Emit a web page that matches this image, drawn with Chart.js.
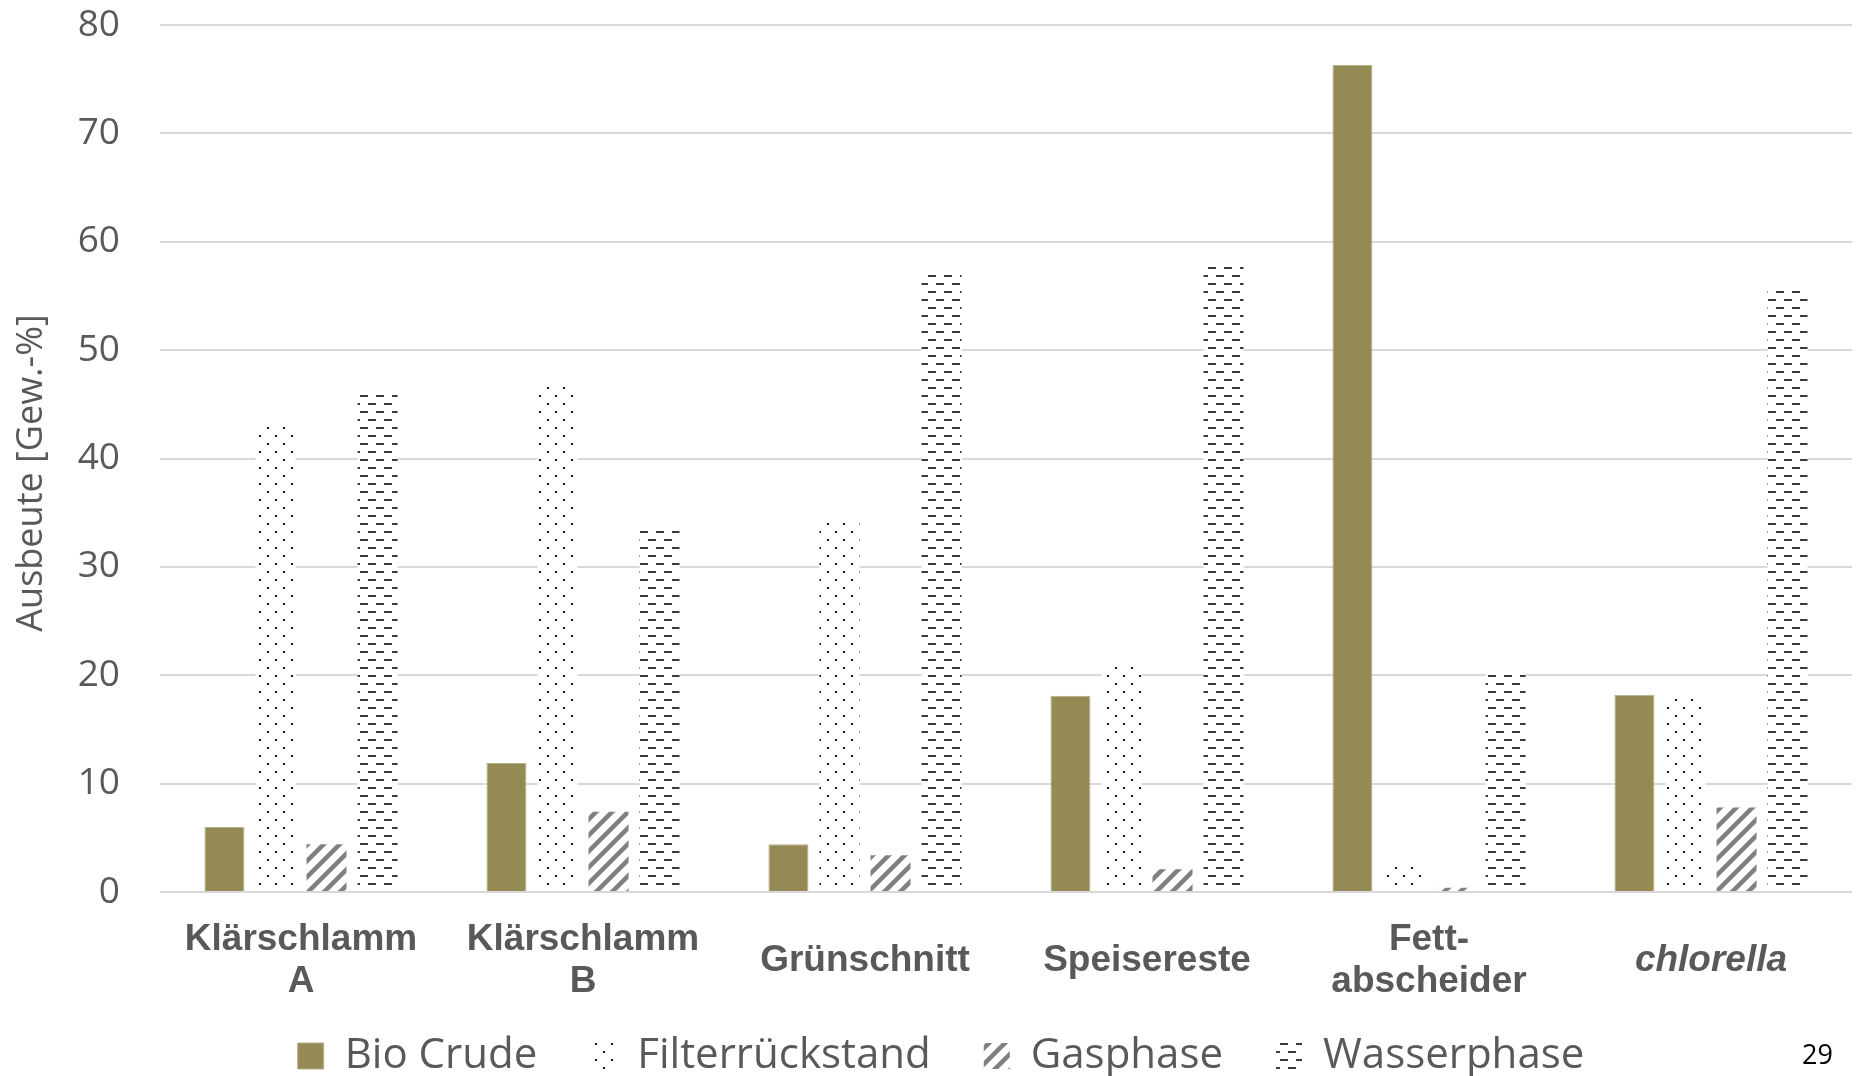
<!DOCTYPE html>
<html lang="de">
<head>
<meta charset="utf-8">
<title>Ausbeute nach Einsatzstoff</title>
<script src="https://cdn.jsdelivr.net/npm/chart.js@4.4.1/dist/chart.umd.min.js"></script>
<style>
  html, body { margin: 0; padding: 0; background: #ffffff; }
  #wrap { width: 1860px; height: 1076px; position: relative; }
</style>
</head>
<body>
<div id="wrap"><canvas id="c" width="1860" height="1076"></canvas></div>
<script>
// Einsatzstoffe (x-Achse)
const categories = [
  ["Klärschlamm", "A"],
  ["Klärschlamm", "B"],
  "Grünschnitt",
  "Speisereste",
  ["Fett-", "abscheider"],
  "chlorella"
];

// Produktfraktionen, Ausbeute in Gew.-%
const bioCrude        = [6.0, 11.9, 4.4, 18.1, 76.3, 18.2];
const filterrueckstand = [42.9, 46.8, 34.4, 21.1, 2.6, 18.1];
const gasphase        = [4.4, 7.4, 3.4, 2.1, 0.4, 7.8];
const wasserphase     = [46.1, 33.6, 57.2, 57.9, 20.4, 55.7];

const seriesNames = ["Bio Crude", "Filterrückstand", "Gasphase", "Wasserphase"];

// y-Achse
const yMin = 0, yMax = 80, yStep = 10;
const yTitle = "Ausbeute [Gew.-%]";
const pageNumber = "29";

// --- Füllmuster ---------------------------------------------------------
function makeTile(size, draw) {
  const t = document.createElement("canvas");
  t.width = size; t.height = size;
  const g = t.getContext("2d");
  g.fillStyle = "#ffffff";
  g.fillRect(0, 0, size, size);
  draw(g, size);
  return t;
}

function buildPatterns(ctx) {
  const dots = makeTile(16, (g) => {
    g.fillStyle = "#111111";
    g.fillRect(3, 3, 2, 2);
    g.fillRect(11, 11, 2, 2);
  });
  const dashes = makeTile(16, (g) => {
    g.fillStyle = "#3c3c3c";
    g.fillRect(0, 3, 8, 2);
    g.fillRect(8, 11, 8, 2);
  });
  const diagonal = makeTile(16, (g, s) => {
    g.strokeStyle = "#808080";
    g.lineWidth = 4.5;
    g.lineCap = "square";
    for (const k of [0, 1, 2]) {
      g.beginPath();
      g.moveTo(-4, k * s + 4);
      g.lineTo(k * s + 4, -4);
      g.stroke();
    }
  });
  return {
    dots: ctx.createPattern(dots, "repeat"),
    dashes: ctx.createPattern(dashes, "repeat"),
    diagonal: ctx.createPattern(diagonal, "repeat")
  };
}

// Achsentitel, Seitenzahl; Beschriftungsbereich der x-Achse nach unten öffnen
const annotations = {
  id: "annotations",
  afterLayout(chart) {
    chart.scales.x.bottom = chart.height;
  },
  afterDraw(chart) {
    const c = chart.ctx;
    c.save();
    c.fillStyle = "#595959";
    c.font = '36px "Open Sans"';
    c.textAlign = "center";
    c.textBaseline = "middle";
    c.translate(32, 473);
    c.rotate(-Math.PI / 2);
    c.fillText(yTitle, 0, 0);
    c.restore();

    c.save();
    c.fillStyle = "#000000";
    c.font = '27px "Open Sans"';
    c.textAlign = "right";
    c.textBaseline = "alphabetic";
    c.fillText(pageNumber, 1833, 1064);
    c.restore();
  }
};

function build() {
  const canvas = document.getElementById("c");
  const ctx = canvas.getContext("2d");
  const p = buildPatterns(ctx);

  const common = { categoryPercentage: 0.724, barPercentage: 0.784 };

  new Chart(ctx, {
    type: "bar",
    data: {
      labels: categories,
      datasets: [
        Object.assign({ label: seriesNames[0], data: bioCrude,
          backgroundColor: "#948a54", borderColor: "#b8b08a", borderWidth: 1 }, common),
        Object.assign({ label: seriesNames[1], data: filterrueckstand,
          backgroundColor: p.dots, borderWidth: 0 }, common),
        Object.assign({ label: seriesNames[2], data: gasphase,
          backgroundColor: p.diagonal, borderWidth: 0 }, common),
        Object.assign({ label: seriesNames[3], data: wasserphase,
          backgroundColor: p.dashes, borderWidth: 0 }, common)
      ]
    },
    options: {
      responsive: false,
      animation: false,
      devicePixelRatio: 1,
      layout: { padding: { top: 0, right: 8, bottom: 0, left: 30 } },
      plugins: {
        tooltip: { enabled: false },
        title: { display: false },
        legend: {
          position: "bottom",
          maxHeight: 94,
          labels: {
            boxWidth: 26,
            boxHeight: 26,
            padding: 53,
            color: "#595959",
            font: { family: "Open Sans", size: 42 }
          }
        }
      },
      scales: {
        x: {
          grid: { display: false, drawTicks: false },
          border: { display: false },
          ticks: {
            padding: 48,
            color: "#595959",
            maxRotation: 0,
            autoSkip: false,
            crossAlign: "center",
            font: (c) => ({
              family: "Liberation Sans",
              size: 37,
              weight: "bold",
              style: c.index === 5 ? "italic" : "normal",
              lineHeight: 1.135
            })
          },
          afterFit(scale) { scale.height = 90; }
        },
        y: {
          min: yMin,
          max: yMax,
          grid: { color: "#d9d9d9", lineWidth: 2, drawTicks: false },
          border: { display: false },
          ticks: {
            stepSize: yStep,
            padding: 40,
            color: "#595959",
            font: { family: "Open Sans", size: 37 }
          },
          afterFit(scale) {
            scale.width = 130;
            scale.paddingTop = 25;
            scale.paddingBottom = 0;
          }
        }
      }
    },
    plugins: [annotations]
  });
}

const fontLoads = [
  '42px "Open Sans"', '37px "Open Sans"', 'bold 37px "Liberation Sans"', 'italic bold 37px "Liberation Sans"'
].map((f) => document.fonts.load(f).catch(() => null));
Promise.all(fontLoads).then(build, build);
</script>
</body>
</html>
